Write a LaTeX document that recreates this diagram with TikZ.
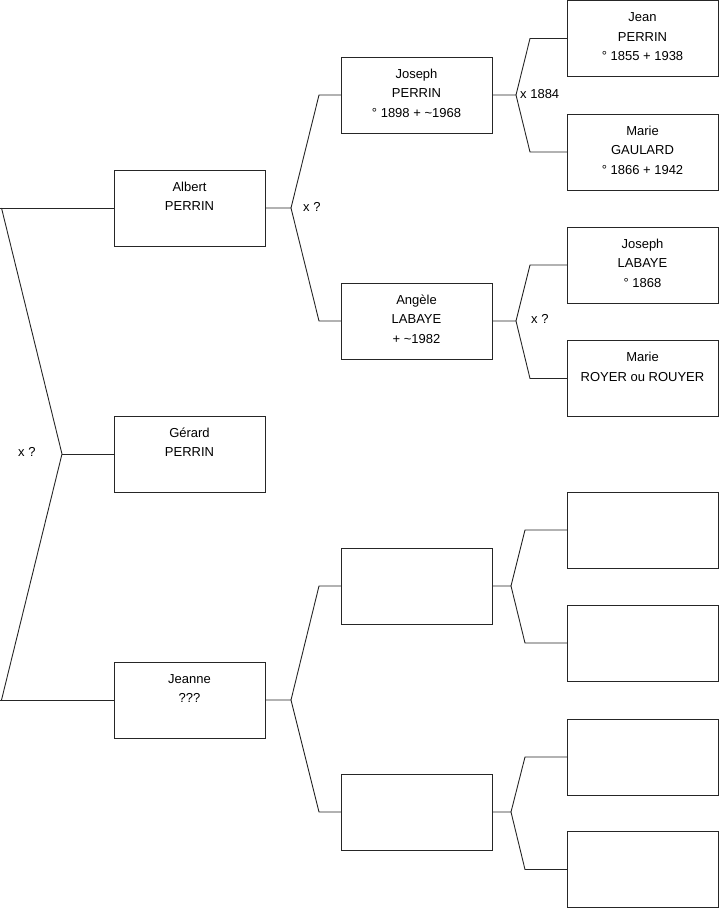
\documentclass[tikz,border=0pt]{standalone}
\usepackage{fontspec}
\setmainfont{Liberation Sans}
\begin{document}
\begin{tikzpicture}[x=1pt,y=-1pt,
  pbox/.style={draw=black!85, line width=0.9pt, minimum width=151pt, minimum height=76pt, inner sep=0pt, outer sep=0pt, anchor=north west},
  ptext/.style={anchor=north, inner sep=0pt, align=center, yshift=-8pt, font=\fontsize{13}{19.5}\selectfont},
  link/.style={draw=black!85, line width=0.9pt},
  mlabel/.style={anchor=base west, inner sep=0pt, font=\fontsize{13}{19.5}\selectfont}]
\useasboundingbox (0,0) rectangle (719,908);
\newcommand{\fs}{\rule{0pt}{13pt}}
% generation 1
\node[pbox] (albert) at (114,170) {};
\node[pbox] (gerard) at (114,416) {};
\node[pbox] (jeanne) at (114,662) {};
% generation 2
\node[pbox] (josephp) at (341,57) {};
\node[pbox] (angele) at (341,283) {};
\node[pbox] (e2a) at (341,548) {};
\node[pbox] (e2b) at (341,774) {};
% generation 3
\node[pbox] (jean) at (567,0.5) {};
\node[pbox] (marieg) at (567,114) {};
\node[pbox] (josephl) at (567,227) {};
\node[pbox] (marier) at (567,340.5) {};
\node[pbox] (e3a) at (567,492) {};
\node[pbox] (e3b) at (567,605) {};
\node[pbox] (e3c) at (567,719) {};
\node[pbox] (e3d) at (567,831.5) {};
% texts
\node[ptext] (t1) at (albert.north) {\fs Albert\\PERRIN};
\node[ptext] (t2) at (gerard.north) {\fs Gérard\\PERRIN};
\node[ptext] (t3) at (jeanne.north) {\fs Jeanne\\???};
\node[ptext] (t4) at (josephp.north) {\fs Joseph\\PERRIN\\° 1898 + \textasciitilde1968};
\node[ptext] (t5) at (angele.north) {\fs Angèle\\LABAYE\\+ \textasciitilde1982};
\node[ptext] (t6) at (jean.north) {\fs Jean\\PERRIN\\° 1855 + 1938};
\node[ptext] (t7) at (marieg.north) {\fs Marie\\GAULARD\\° 1866 + 1942};
\node[ptext] (t8) at (josephl.north) {\fs Joseph\\LABAYE\\° 1868};
\node[ptext] (t9) at (marier.north) {\fs Marie\\ROYER ou ROUYER};
% root connectors
\coordinate (rtop) at (0,208);
\coordinate (rbot) at (0,700);
\draw[link] (albert.west) -- (rtop);
\draw[link] (jeanne.west) -- (rbot);
\draw[link] ([xshift=1.5pt]rtop) -- ([xshift=-52pt]gerard.west) -- ([xshift=1.5pt]rbot);
\draw[link] ([xshift=-52pt]gerard.west) -- (gerard.west);
% gen1 -> gen2
\draw[link] (josephp.west) -- ++(-22,0) -- ([xshift=26pt]albert.east) -- (albert.east);
\draw[link] (angele.west) -- ++(-22,0) -- ([xshift=26pt]albert.east);
\draw[link] (e2a.west) -- ++(-22,0) -- ([xshift=26pt]jeanne.east) -- (jeanne.east);
\draw[link] (e2b.west) -- ++(-22,0) -- ([xshift=26pt]jeanne.east);
% gen2 -> gen3
\draw[link] (jean.west) -- ++(-37,0) -- ([xshift=24pt]josephp.east) -- (josephp.east);
\draw[link] (marieg.west) -- ++(-37,0) -- ([xshift=24pt]josephp.east);
\draw[link] (josephl.west) -- ++(-37,0) -- ([xshift=24pt]angele.east) -- (angele.east);
\draw[link] (marier.west) -- ++(-37,0) -- ([xshift=24pt]angele.east);
\draw[link] (e3a.west) -- ++(-42,0) -- ([xshift=19pt]e2a.east) -- (e2a.east);
\draw[link] (e3b.west) -- ++(-42,0) -- ([xshift=19pt]e2a.east);
\draw[link] (e3c.west) -- ++(-42,0) -- ([xshift=19pt]e2b.east) -- (e2b.east);
\draw[link] (e3d.west) -- ++(-42,0) -- ([xshift=19pt]e2b.east);
% marriage labels
\node[mlabel] (m0) at (18,456) {x ?};
\node[mlabel] (m1) at (303,211) {x ?};
\node[mlabel] (m2) at (520,98) {x 1884};
\node[mlabel] (m3) at (531,323) {x ?};
\end{tikzpicture}
\end{document}
